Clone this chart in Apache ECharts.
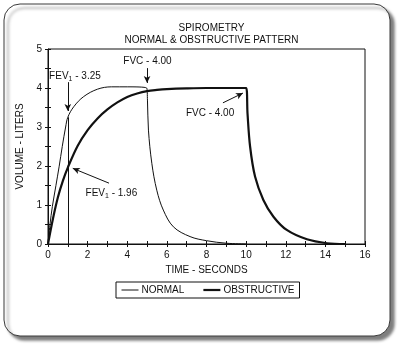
<!DOCTYPE html>
<html>
<head>
<meta charset="utf-8">
<script src="https://cdn.jsdelivr.net/npm/echarts@6/dist/echarts.min.js"></script>
<style>
  html, body { margin: 0; padding: 0; background: #fff; }
  #chart { width: 401px; height: 346px; }
</style>
</head>
<body>
<div id="chart"></div>
<script>
// Time (seconds) and volume (litres) for the normal spirogram
var normalTime = [0, 0.1, 0.22, 0.4, 0.56, 0.72, 0.89, 1.0, 1.3, 1.8, 2.5, 3.2, 4.0, 4.98, 5.02, 5.07, 5.24, 5.49, 5.82, 6.33, 7.17, 8.0, 9.0, 10.0];
var normalVolume = [0, 0.5, 0.96, 1.5, 1.98, 2.5, 3.0, 3.25, 3.52, 3.78, 3.97, 4.03, 4.03, 4.0, 3.69, 2.92, 2.07, 1.38, 0.87, 0.44, 0.19, 0.085, 0.02, 0];

// Time (seconds) and volume (litres) for the obstructive spirogram
var obstructiveTime = [0, 0.25, 0.5, 0.75, 1.0, 1.5, 2.0, 2.5, 3.0, 3.5, 4.0, 4.5, 5.0, 5.5, 6.0, 7.0, 8.0, 10.0, 10.07, 10.2, 10.45, 10.87, 11.38, 12.05, 13.07, 14.08, 15.0];
var obstructiveVolume = [0, 0.65, 1.2, 1.62, 1.96, 2.52, 2.92, 3.22, 3.45, 3.63, 3.77, 3.86, 3.92, 3.95, 3.97, 3.99, 4.0, 4.0, 3.35, 2.5, 1.73, 1.13, 0.70, 0.36, 0.12, 0.02, 0];

var seriesNames = ['NORMAL', 'OBSTRUCTIVE'];
var xTicks = [0, 2, 4, 6, 8, 10, 12, 14, 16];
var yTicks = [0, 1, 2, 3, 4, 5];

var fev1Normal = 3.25;
var fev1Obstructive = 1.96;
var fvc = 4.00;

function pairs(xs, ys) {
  return xs.map(function (x, i) { return [x, ys[i]]; });
}

var font = '"Liberation Sans", Arial, Helvetica, sans-serif';
var ink = '#111';
var thinWidth = 1;
var thickWidth = 2.2;

// Callout labels (placed in data units) with their arrows
var callouts = [
  { text: '{a|FEV}{s|1}{a| - ' + fev1Normal.toFixed(2) + '}', at: [1.36, 4.31], from: [1.0, 4.15], to: [1.0, 3.41] },
  { text: '{a|FVC - ' + fvc.toFixed(2) + '}', at: [5.02, 4.69], from: [5.0, 4.51], to: [5.0, 4.13] },
  { text: '{a|FVC - ' + fvc.toFixed(2) + '}', at: [8.18, 3.36], from: [8.83, 3.62], to: [9.84, 3.87] },
  { text: '{a|FEV}{s|1}{a| - ' + fev1Obstructive.toFixed(2) + '}', at: [3.2, 1.31], from: [3.08, 1.56], to: [1.25, 1.94] }
];

// second pair of axes only adds the inner half of each tick mark
function innerAxis(base) {
  return Object.assign({}, base, {
    name: '',
    axisLine: { show: false },
    axisLabel: { show: false },
    axisTick: { show: true, inside: true, length: 3, lineStyle: { color: ink } },
    minorTick: base.minorTick ? { show: true, splitNumber: 2, length: 3, lineStyle: { color: ink } } : undefined,
    offset: 0
  });
}

var xBase = {
  type: 'value',
  min: 0, max: 16, interval: 1,
  position: 'bottom',
  name: 'TIME - SECONDS',
  nameLocation: 'middle',
  nameGap: 20,
  nameTextStyle: { fontFamily: font, fontSize: 10, color: ink },
  axisLine: { onZero: false, lineStyle: { color: ink, width: 1 } },
  axisTick: { length: 3, lineStyle: { color: ink } },
  axisLabel: {
    margin: 6, fontFamily: font, fontSize: 10, color: ink,
    formatter: function (v) { return xTicks.indexOf(v) >= 0 ? String(v) : ''; }
  },
  splitLine: { show: false }
};

var yBase = {
  type: 'value',
  min: 0, max: 5, interval: 1,
  position: 'left',
  name: 'VOLUME - LITERS',
  nameLocation: 'middle',
  nameGap: 15,
  nameRotate: 90,
  nameTextStyle: { fontFamily: font, fontSize: 10, color: ink },
  axisLine: { show: true, onZero: false, lineStyle: { color: ink, width: 1 } },
  axisTick: { show: true, length: 3, lineStyle: { color: ink } },
  minorTick: { show: true, splitNumber: 2, length: 3, lineStyle: { color: ink } },
  axisLabel: {
    margin: 6, fontFamily: font, fontSize: 10, color: ink,
    formatter: function (v) { return yTicks.indexOf(v) >= 0 ? String(v) : ''; }
  },
  splitLine: { show: false }
};

var chart = echarts.init(document.getElementById('chart'), null, { renderer: 'canvas' });

chart.setOption({
  backgroundColor: '#fff',
  animation: false,
  textStyle: { fontFamily: font, color: ink },
  graphic: [{
    type: 'rect',
    z: -100,
    shape: { x: 4, y: 4, width: 386, height: 332, r: 16 },
    style: {
      fill: '#fff', stroke: '#3a3a3a', lineWidth: 1,
      shadowBlur: 3, shadowOffsetX: 4, shadowOffsetY: 4, shadowColor: 'rgba(0,0,0,0.5)'
    }
  }],
  title: {
    text: 'SPIROMETRY\nNORMAL & OBSTRUCTIVE PATTERN',
    left: 206.5,
    top: 17,
    textAlign: 'center',
    textStyle: { fontFamily: font, fontSize: 10, fontWeight: 'normal', color: ink, lineHeight: 12 }
  },
  legend: {
    data: [
      { name: seriesNames[0], lineStyle: { width: thinWidth, color: ink } },
      { name: seriesNames[1], lineStyle: { width: thickWidth, color: ink } }
    ],
    left: 116,
    top: 282,
    orient: 'horizontal',
    padding: [3, 5, 3, 5],
    itemWidth: 17,
    itemHeight: 10,
    itemGap: 18,
    borderColor: '#111',
    borderWidth: 1,
    itemStyle: { color: 'transparent', borderWidth: 0 },
    textStyle: { fontFamily: font, fontSize: 10, color: ink, padding: [0, 0, 0, -2] }
  },
  grid: {
    left: 48, right: 36, top: 49, bottom: 102,
    show: true, borderColor: ink, borderWidth: 1, backgroundColor: 'transparent'
  },
  xAxis: [xBase, innerAxis(xBase)],
  yAxis: [yBase, innerAxis(yBase)],
  series: [
    {
      name: seriesNames[0],
      type: 'line',
      data: pairs(normalTime, normalVolume),
      smooth: 0.35,
      symbol: 'none',
      lineStyle: { color: ink, width: thinWidth },
      itemStyle: { color: ink },
      z: 3,
      markLine: {
        silent: true,
        symbol: 'none',
        label: { show: false },
        lineStyle: { color: ink, width: 1, type: 'solid' },
        data: [[{ coord: [1, 0] }, { coord: [1, fev1Normal] }]]
      }
    },
    {
      name: seriesNames[1],
      type: 'line',
      data: pairs(obstructiveTime, obstructiveVolume),
      smooth: 0.35,
      symbol: 'none',
      lineStyle: { color: ink, width: thickWidth },
      itemStyle: { color: ink },
      z: 4
    },
    {
      // callout labels and arrows
      type: 'line',
      data: [],
      silent: true,
      markPoint: {
        symbol: 'rect',
        symbolSize: 0,
        label: {
          show: true,
          position: 'inside',
          rich: {
            a: { fontFamily: font, fontSize: 10, color: ink },
            s: { fontFamily: font, fontSize: 7, color: ink, verticalAlign: 'bottom', padding: [6, 0, 0, 0] }
          },
          formatter: function (p) { return p.data.text; }
        },
        data: callouts.map(function (c) { return { coord: c.at, text: c.text }; })
      },
      markLine: {
        silent: true,
        symbol: ['none', 'arrow'],
        symbolSize: [5, 7],
        label: { show: false },
        lineStyle: { color: ink, width: 1, type: 'solid' },
        data: callouts.map(function (c) { return [{ coord: c.from }, { coord: c.to }]; })
      }
    }
  ]
});
</script>
</body>
</html>
